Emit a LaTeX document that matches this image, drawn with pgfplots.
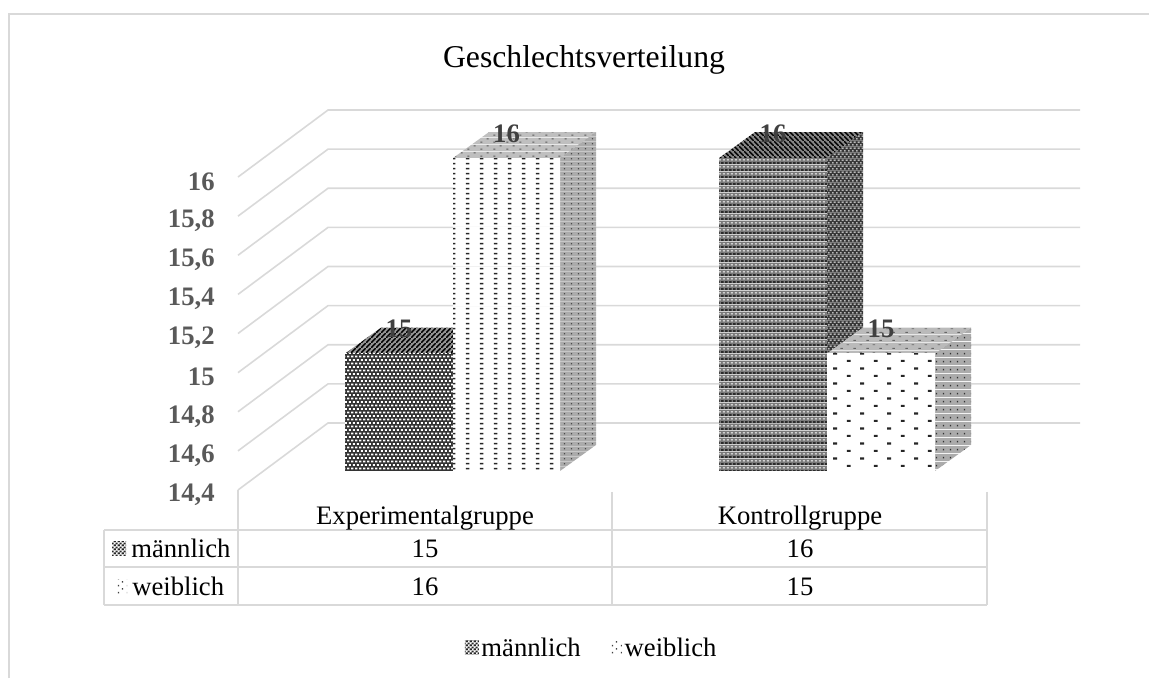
\documentclass[border=0pt]{standalone}
\usepackage{fontspec}
\setmainfont{Liberation Serif}
\usepackage{pgfplots}
\pgfplotsset{compat=1.18}
\usetikzlibrary{patterns}
\definecolor{gridgray}{HTML}{D9D9D9}
\definecolor{ticktext}{HTML}{595959}
\definecolor{labtext}{HTML}{404040}
\newcommand\dash[4]{\pgfpathrectangle{\pgfpoint{#1pt}{#2pt}}{\pgfpoint{#3pt}{#4pt}}}
\newcommand\bg[3]{\pgfsetfillcolor{#1}\dash{0}{0}{#2}{#3}\pgfusepath{fill}}
\pgfdeclarepatterninherentlycolored{mfront}{\pgfpointorigin}{\pgfpoint{3.3pt}{5.6pt}}{\pgfpoint{3.3pt}{5.6pt}}{%
  \bg{black!80}{3.3}{5.6}\pgfsetfillcolor{white}\dash{0}{0.5}{2.1}{1.5}\dash{1.65}{3.3}{2.1}{1.5}\pgfusepath{fill}}
\pgfdeclarepatterninherentlycolored{mtop}{\pgfpointorigin}{\pgfpoint{4pt}{4pt}}{\pgfpoint{4pt}{4pt}}{%
  \bg{black!42}{4}{4}\pgfsetstrokecolor{black}\pgfsetlinewidth{1.2pt}%
  \pgfpathmoveto{\pgfpoint{-1pt}{-1pt}}\pgfpathlineto{\pgfpoint{5pt}{5pt}}\pgfusepath{stroke}}
\pgfdeclarepatterninherentlycolored{mfrontb}{\pgfpointorigin}{\pgfpoint{3.3pt}{5pt}}{\pgfpoint{3.3pt}{5pt}}{%
  \bg{black!52}{3.3}{5}\pgfsetfillcolor{black}\dash{0}{0.3}{2.2}{0.9}\pgfusepath{fill}\pgfsetfillcolor{white}\dash{1.65}{2.8}{1.9}{0.9}\pgfusepath{fill}}
\pgfdeclarepatterninherentlycolored{mside}{\pgfpointorigin}{\pgfpoint{3pt}{4.4pt}}{\pgfpoint{3pt}{4.4pt}}{%
  \bg{black!78}{3}{4.4}\pgfsetfillcolor{white}\dash{0}{0.4}{1.6}{0.8}\dash{1.5}{2.6}{1.6}{0.8}\pgfusepath{fill}}
\pgfdeclarepatterninherentlycolored{mtopb}{\pgfpointorigin}{\pgfpoint{4pt}{4pt}}{\pgfpoint{4pt}{4pt}}{%
  \bg{black!48}{4}{4}\pgfsetstrokecolor{black}\pgfsetlinewidth{1.2pt}%
  \pgfpathmoveto{\pgfpoint{-1pt}{5pt}}\pgfpathlineto{\pgfpoint{5pt}{-1pt}}\pgfusepath{stroke}}
\pgfdeclarepatterninherentlycolored{ffront}{\pgfpointorigin}{\pgfpoint{10.2pt}{3.9pt}}{\pgfpoint{10.2pt}{3.9pt}}{%
  \bg{white}{10.2}{3.9}\pgfsetfillcolor{black!85}\dash{3}{1.3}{2.6}{1.3}\pgfusepath{fill}}
\pgfdeclarepatterninherentlycolored{fside}{\pgfpointorigin}{\pgfpoint{4.9pt}{3.9pt}}{\pgfpoint{4.9pt}{3.9pt}}{%
  \bg{black!33}{4.9}{3.9}\pgfsetfillcolor{black!70}\dash{1.5}{1.4}{1}{1}\pgfusepath{fill}}
\pgfdeclarepatterninherentlycolored{ftop}{\pgfpointorigin}{\pgfpoint{10pt}{5pt}}{\pgfpoint{10pt}{5pt}}{%
  \bg{black!25}{10}{5}\pgfsetfillcolor{black!65}\dash{1}{1}{1.6}{.8}\dash{6}{3.5}{1.6}{.8}\pgfusepath{fill}}
\pgfdeclarepatterninherentlycolored{ffrontb}{\pgfpointorigin}{\pgfpoint{20.4pt}{11.2pt}}{\pgfpoint{20.4pt}{11.2pt}}{%
  \bg{white}{20.4}{11.2}\pgfsetfillcolor{black!85}\dash{3}{1.5}{2.9}{1.6}\dash{13.2}{7.1}{2.9}{1.6}\pgfusepath{fill}}
\pgfdeclarepatterninherentlycolored{fsideb}{\pgfpointorigin}{\pgfpoint{4.9pt}{5.6pt}}{\pgfpoint{4.9pt}{5.6pt}}{%
  \bg{black!33}{4.9}{5.6}\pgfsetfillcolor{black!80}\dash{1.5}{2}{0.9}{1.2}\pgfusepath{fill}}
\pgfdeclarepatterninherentlycolored{ftopb}{\pgfpointorigin}{\pgfpoint{10pt}{6pt}}{\pgfpoint{10pt}{6pt}}{%
  \bg{black!27}{10}{6}\pgfsetfillcolor{black!60}\dash{1}{1}{2}{.7}\dash{6}{4}{2}{.7}\pgfusepath{fill}}
\pgfdeclarepatterninherentlycolored{lgm}{\pgfpointorigin}{\pgfpoint{3pt}{3pt}}{\pgfpoint{3pt}{3pt}}{%
  \bg{black!85}{3}{3}\pgfsetfillcolor{white}\dash{0}{0}{1.5}{1.5}\dash{1.5}{1.5}{1.5}{1.5}\pgfusepath{fill}}
\pgfdeclarepatterninherentlycolored{lgf}{\pgfpointorigin}{\pgfpoint{7pt}{5pt}}{\pgfpoint{7pt}{5pt}}{%
  \bg{white}{7}{5}\pgfsetfillcolor{black!75}\dash{0.6}{1}{1.1}{1.1}\dash{4.6}{3.4}{1.1}{1.1}\pgfusepath{fill}}
\newcommand\txt{\fontsize{20pt}{24pt}\selectfont}
\pgfplotsset{value label/.style={forget plot, only marks, mark=none, draw=none,
  nodes near coords, nodes near coords align={center},
  every node near coord/.style={/pgf/number format/assume math mode=true, anchor=center, yshift=18.5pt, font=\fontsize{20pt}{24pt}\selectfont\bfseries, text=labtext}}}
\begin{document}
\begin{tikzpicture}
\useasboundingbox (0,0) rectangle (861.75pt,508.5pt);
\begin{axis}[
  anchor=south west, at={(178.5pt,141pt)},
  x=0.75pt, y=146.7pt, xmin=238, xmax=1149, ymin=14.4, ymax=16.6,
  axis lines=left, axis line style={draw=none}, major tick length=0pt,
  xtick=\empty, ytick={14.4,14.6,14.8,15,15.2,15.4,15.6,15.8,16},
  yticklabel style={/pgf/number format/.cd,use comma,fixed,precision=1,assume math mode=true,/tikz/.cd,
    font=\fontsize{20pt}{24pt}\selectfont\bfseries, text=ticktext, xshift=-14pt, yshift=-3.5pt},
  clip=false, unbounded coords=jump]
\addplot[gridgray, line width=1.2pt, line join=miter] coordinates {
 (238,14.4)(328,14.7425)(1080,14.7425)(238,nan)
 (238,14.6)(328,14.9425)(1080,14.9425)(238,nan)
 (238,14.8)(328,15.1425)(1080,15.1425)(238,nan)
 (238,15.0)(328,15.3425)(1080,15.3425)(238,nan)
 (238,15.2)(328,15.5425)(1080,15.5425)(238,nan)
 (238,15.4)(328,15.7425)(1080,15.7425)(238,nan)
 (238,15.6)(328,15.9425)(1080,15.9425)(238,nan)
 (238,15.8)(328,16.1425)(1080,16.1425)(238,nan)
 (238,16.0)(328,16.3425)(1080,16.3425)
};
\end{axis}
\begin{axis}[
  anchor=south west, at={(0pt,155.25pt)},
  x=0.75pt, y=146.7pt, xmin=0, xmax=1149, ymin=14.4, ymax=16.6,
  hide axis, clip=false,
  legend columns=2,
  legend style={draw=none, fill=none, at={(axis cs:592,13.495)}, anchor=center,
    font=\txt, inner sep=0pt, /tikz/every even column/.append style={column sep=20pt}}]
% male, Experimentalgruppe: 15
\addplot[forget plot, draw=none, pattern=mtop] coordinates {(345,15)(381,15.133)(453,15.133)(453,15)} -- cycle;
\addplot[ybar, bar width=81pt, bar shift=0pt, pattern=mfront, draw=none,
  legend image code/.code={\path[pattern=lgm] (0pt,-4.5pt) rectangle (10.5pt,6pt);}] coordinates {(399,15)};
\addlegendentry{männlich}
\addplot[value label] coordinates {(399,15)};
% female, Experimentalgruppe: 16
\addplot[forget plot, draw=none, pattern=ftop] coordinates {(453,16)(489,16.133)(596,16.133)(560,16)} -- cycle;
\addplot[forget plot, draw=none, pattern=fside] coordinates {(560,16)(596,16.133)(596,14.533)(560,14.4)} -- cycle;
\addplot[ybar, bar width=80.25pt, bar shift=0pt, pattern=ffront, draw=none,
  legend image code/.code={\path[pattern=lgf] (-5pt,-4.5pt) rectangle (4pt,6pt);}] coordinates {(506.5,16)};
\addlegendentry{weiblich}
\addplot[value label] coordinates {(506.5,16)};
% male, Kontrollgruppe: 16
\addplot[forget plot, draw=none, pattern=mtopb] coordinates {(719,16)(755,16.133)(863,16.133)(827,16)} -- cycle;
\addplot[forget plot, draw=none, pattern=mside] coordinates {(827,16)(863,16.133)(863,15.133)(827,15)} -- cycle;
\addplot[forget plot, ybar, bar width=81pt, bar shift=0pt, pattern=mfrontb, draw=none] coordinates {(773,16)};
\addplot[value label] coordinates {(773,16)};
% female, Kontrollgruppe: 15
\addplot[forget plot, draw=none, pattern=ftopb] coordinates {(827,15)(863,15.133)(971,15.133)(935,15)} -- cycle;
\addplot[forget plot, draw=none, pattern=fsideb] coordinates {(935,15)(971,15.133)(971,14.533)(935,14.4)} -- cycle;
\addplot[forget plot, ybar, bar width=81pt, bar shift=0pt, pattern=ffrontb, draw=none] coordinates {(881,15)};
\addplot[value label] coordinates {(881,15)};
\end{axis}
\begin{scope}[x=0.75pt,y=-0.75pt,yshift=508.5pt]
\draw[gridgray,line width=1.1pt] (9,678) -- (9,14) -- (1149,14);
\node[font=\fontsize{23.8pt}{28pt}\selectfont] at (584,60) {Geschlechtsverteilung};
\draw[gridgray,line width=1.1pt]
  (238,490) -- (238,605) (612,492) -- (612,605) (987,492) -- (987,605)
  (104,530) -- (987,530) (104,567) -- (987,567) (104,605) -- (987,605)
  (104,530) -- (104,605);
\node[font=\txt,anchor=base,inner sep=0pt] at (425,525) {Experimentalgruppe};
\node[font=\txt,anchor=base,inner sep=0pt] at (800,525) {Kontrollgruppe};
\node[font=\txt,anchor=base,inner sep=0pt] at (425,558) {15};
\node[font=\txt,anchor=base,inner sep=0pt] at (800,558) {16};
\node[font=\txt,anchor=base,inner sep=0pt] at (425,596) {16};
\node[font=\txt,anchor=base,inner sep=0pt] at (800,596) {15};
\node[font=\txt,anchor=base west,inner sep=0pt] at (131,558) {männlich};
\node[font=\txt,anchor=base west,inner sep=0pt] at (132,596) {weiblich};
\path[pattern=lgm] (112,542) rectangle (126,556);
\path[pattern=lgf] (115,580) rectangle (127,594);
\end{scope}
\end{tikzpicture}
\end{document}
